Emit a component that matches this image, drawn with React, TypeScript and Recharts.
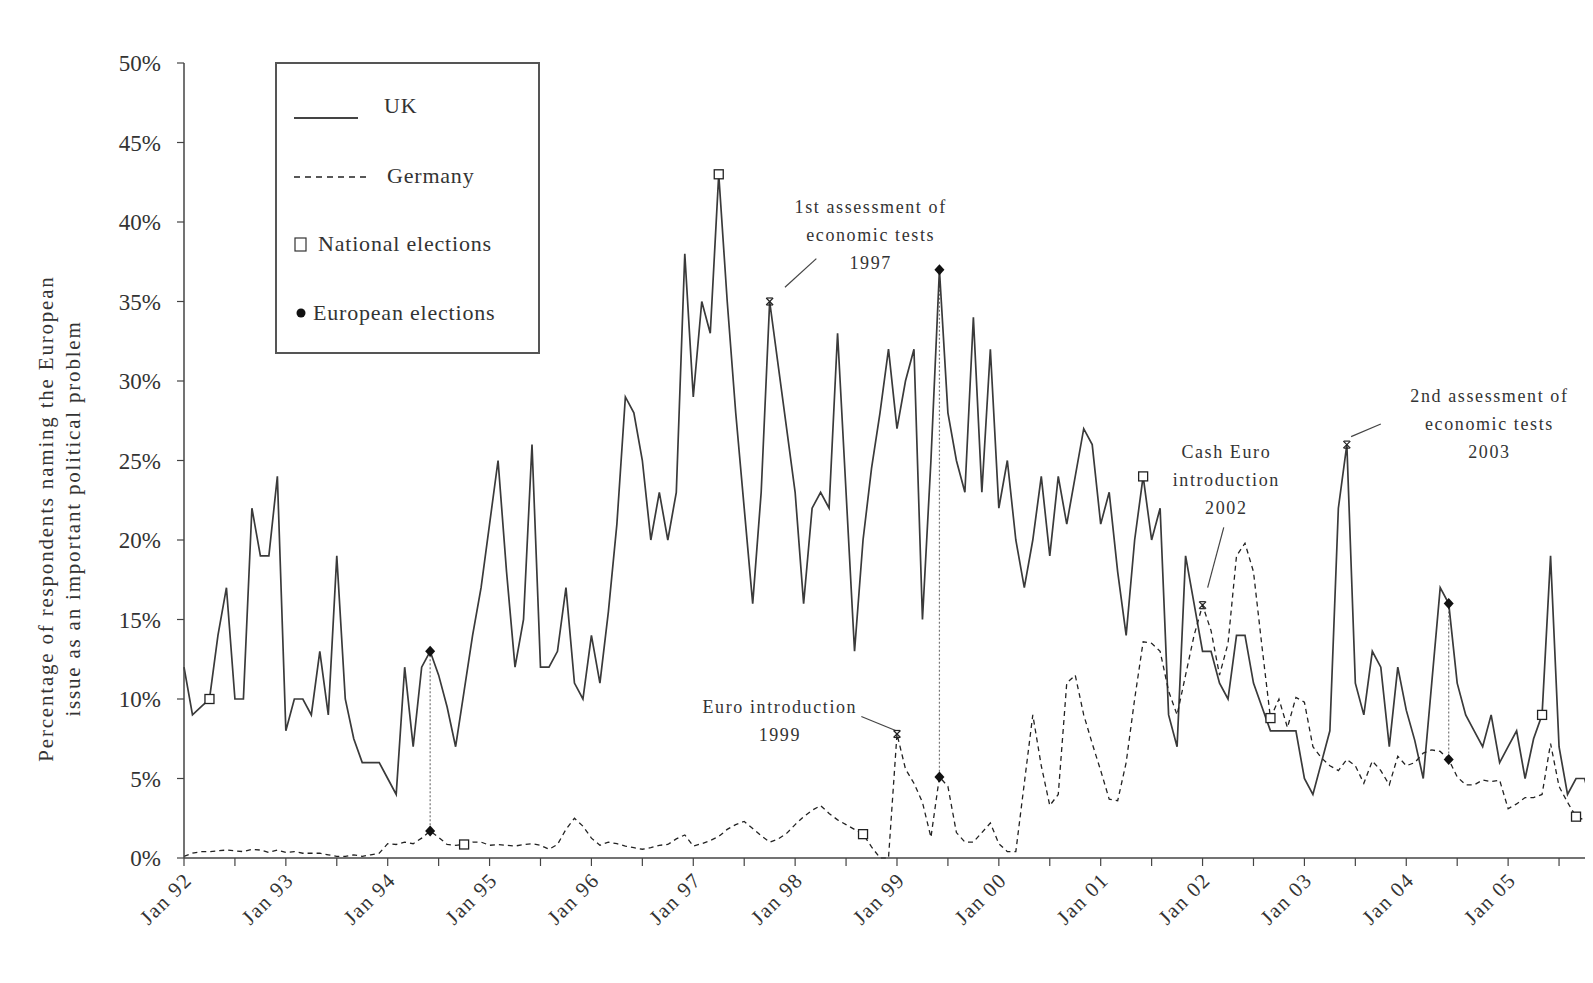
import React from 'react';
import {
  ComposedChart,
  Line,
  XAxis,
  YAxis,
  ReferenceLine,
  ReferenceDot,
  Legend,
} from 'recharts';

const W = 1593;
const H = 983;
const FONT = '"Liberation Serif", "Times New Roman", serif';
const INK = '#333';

// share of respondents (%), one value per month, month 0 = Jan 1992
const ukShare = [
  12, 9, 9.5, 10, 14, 17, 10, 10, 22, 19, 19, 24, // 1992
  8, 10, 10, 9, 13, 9, 19, 10, 7.5, 6, 6, 6, // 1993
  5, 4, 12, 7, 12, 13, 11.5, 9.5, 7, 10.5, 14, 17, // 1994
  21, 25, 18, 12, 15, 26, 12, 12, 13, 17, 11, 10, // 1995
  14, 11, 15.5, 21, 29, 28, 25, 20, 23, 20, 23, 38, // 1996
  29, 35, 33, 43, 35, 28, 22, 16, 23, 35, 31, 27, // 1997
  23, 16, 22, 23, 22, 33, 23, 13, 20, 24.5, 28, 32, // 1998
  27, 30, 32, 15, 25, 37, 28, 25, 23, 34, 23, 32, // 1999
  22, 25, 20, 17, 20, 24, 19, 24, 21, 24, 27, 26, // 2000
  21, 23, 18, 14, 20, 24, 20, 22, 9, 7, 19, 16, // 2001
  13, 13, 11, 10, 14, 14, 11, 9.5, 8, 8, 8, 8, // 2002
  5, 4, 6, 8, 22, 26, 11, 9, 13, 12, 7, 12, // 2003
  9.3, 7.4, 5, 11, 17, 16, 11, 9, 8, 7, 9, 6, // 2004
  7, 8, 5, 7.5, 9, 19, 7, 4, 5, 5, 3, // 2005
];

const deShare = [
  0.1, 0.3, 0.4, 0.4, 0.45, 0.5, 0.45, 0.4, 0.55, 0.5, 0.35, 0.5, // 1992
  0.35, 0.4, 0.3, 0.3, 0.3, 0.2, 0.1, 0.1, 0.2, 0.1, 0.2, 0.3, // 1993
  0.9, 0.85, 1.0, 0.9, 1.25, 1.7, 1.3, 0.85, 0.8, 0.85, 1.0, 1.0, // 1994
  0.8, 0.85, 0.8, 0.75, 0.85, 0.9, 0.8, 0.55, 0.85, 1.8, 2.5, 2.0, // 1995
  1.25, 0.8, 1.0, 0.9, 0.75, 0.65, 0.55, 0.65, 0.8, 0.85, 1.2, 1.45, // 1996
  0.75, 0.9, 1.1, 1.35, 1.8, 2.1, 2.3, 1.85, 1.4, 1.0, 1.2, 1.55, // 1997
  2.1, 2.6, 3.0, 3.3, 2.8, 2.4, 2.1, 1.8, 1.5, 0.7, 0, 0, // 1998
  7.8, 5.6, 4.7, 3.5, 1.3, 5.1, 4.5, 1.6, 1.0, 1.0, 1.6, 2.2, // 1999
  0.9, 0.4, 0.4, 4.7, 9, 5.8, 3.3, 4.0, 11, 11.5, 9, 7.2, // 2000
  5.5, 3.7, 3.6, 6, 10, 13.6, 13.5, 13, 10.5, 9, 11.5, 14, // 2001
  15.9, 14.3, 11.5, 13.5, 19, 19.8, 18, 13.3, 8.8, 10, 8.2, 10.1, // 2002
  9.8, 7, 6.3, 5.8, 5.5, 6.2, 5.8, 4.7, 6.1, 5.5, 4.6, 6.4, // 2003
  5.8, 6.0, 6.6, 6.8, 6.7, 6.2, 5.1, 4.6, 4.6, 4.9, 4.8, 4.9, // 2004
  3.1, 3.4, 3.8, 3.8, 4.0, 7.2, 4.5, 3.5, 2.6, 2.4, 2.2, // 2005
];

const yearLabels = [
  'Jan 92', 'Jan 93', 'Jan 94', 'Jan 95', 'Jan 96', 'Jan 97', 'Jan 98',
  'Jan 99', 'Jan 00', 'Jan 01', 'Jan 02', 'Jan 03', 'Jan 04', 'Jan 05',
];
const tickMonths = [
  0, 6, 12, 18, 24, 30, 36, 42, 48, 54, 60, 66, 72, 78, 84, 90, 96, 102,
  108, 114, 120, 126, 132, 138, 144, 150, 156, 162,
];
const yTicks = [0, 5, 10, 15, 20, 25, 30, 35, 40, 45, 50];

// month indexes of markers
const nationalElectionsUK = [3, 63, 113, 160];
const nationalElectionsDE = [33, 80, 128, 164];
const europeanElections = [29, 89, 149];
const eventsUK = [69, 137];
const eventsDE = [84, 120];

const annotations = [
  { lines: ['1st assessment of', 'economic tests', '1997'], at: { x: 80.9, y: 39.2 }, lead: [{ x: 70.8, y: 35.9 }, { x: 74.5, y: 37.7 }] },
  { lines: ['Euro introduction', '1999'], at: { x: 70.2, y: 8.6 }, lead: [{ x: 79.8, y: 8.9 }, { x: 83.9, y: 8.0 }] },
  { lines: ['Cash Euro', 'introduction', '2002'], at: { x: 122.8, y: 23.8 }, lead: [{ x: 122.5, y: 20.8 }, { x: 120.6, y: 17.0 }] },
  { lines: ['2nd assessment of', 'economic tests', '2003'], at: { x: 153.8, y: 27.3 }, lead: [{ x: 137.5, y: 26.5 }, { x: 141, y: 27.3 }] },
];

const data = ukShare.map((uk, m) => ({ m, uk, de: deShare[m] }));

const markerDot = (squares: number[], diamonds: number[], crosses: number[]) => (props: any) => {
  const { cx, cy, index } = props;
  const key = `mk-${index}`;
  if (cx == null || cy == null) return <g key={key} />;
  if (squares.includes(index)) {
    return <rect key={key} x={cx - 4.5} y={cy - 4.5} width={9} height={9} fill="#fff" stroke="#222" strokeWidth={1.3} />;
  }
  if (diamonds.includes(index)) {
    return <path key={key} d={`M${cx},${cy - 5.5}L${cx + 5},${cy}L${cx},${cy + 5.5}L${cx - 5},${cy}Z`} fill="#111" />;
  }
  if (crosses.includes(index)) {
    return (
      <g key={key} stroke="#222" strokeWidth={1.2}>
        <line x1={cx - 3.5} y1={cy - 3.5} x2={cx + 3.5} y2={cy + 3.5} />
        <line x1={cx - 3.5} y1={cy + 3.5} x2={cx + 3.5} y2={cy - 3.5} />
        <line x1={cx - 3} y1={cy - 3.5} x2={cx + 3} y2={cy - 3.5} />
        <line x1={cx - 3} y1={cy + 3.5} x2={cx + 3} y2={cy + 3.5} />
      </g>
    );
  }
  return <g key={key} />;
};

const MonthTick = (props: any) => {
  const { x, y, payload } = props;
  if (payload.value % 12 !== 0) return <g />;
  const label = yearLabels[payload.value / 12];
  return (
    <g transform={`translate(${x + 4},${y + 8}) rotate(-45)`}>
      <text x={0} y={0} dy="0.35em" textAnchor="end" fill={INK} fontSize={21} fontFamily={FONT} letterSpacing={1.5}>
        {label}
      </text>
    </g>
  );
};

const AxisTitle = (props: any) => {
  const vb = props.viewBox || { x: 124, y: 63, width: 60, height: 795 };
  const cy = vb.y + vb.height / 2 + 58;
  const x1 = vb.x - 78;
  const x2 = vb.x - 51;
  const style = { fill: INK, fontSize: 21, fontFamily: FONT, letterSpacing: 1.8 };
  return (
    <g>
      <text x={x1} y={cy} transform={`rotate(-90, ${x1}, ${cy})`} textAnchor="middle" dominantBaseline="central" {...style}>
        Percentage of respondents naming the European
      </text>
      <text x={x2} y={cy} transform={`rotate(-90, ${x2}, ${cy})`} textAnchor="middle" dominantBaseline="central" {...style}>
        issue as an important political problem
      </text>
    </g>
  );
};

const noteShape = (lines: string[]) => (p: any) => {
  const mid = (lines.length - 1) / 2;
  return (
    <g>
      {lines.map((t, i) => (
        <text key={t} x={p.cx} y={p.cy + (i - mid) * 28} textAnchor="middle" dominantBaseline="central"
          fill={INK} fontSize={18} fontFamily={FONT} letterSpacing={1.6}>
          {t}
        </text>
      ))}
    </g>
  );
};

const LegendBox = () => {
  const txt = { fill: INK, fontSize: 22, fontFamily: FONT, letterSpacing: 0.8 };
  return (
    <svg width={265} height={292} style={{ display: 'block' }}>
      <rect x={1} y={1} width={263} height={290} fill="#fff" stroke="#555" strokeWidth={2} />
      <line x1={19} x2={83} y1={56} y2={56} stroke="#444" strokeWidth={2} />
      <text x={109} y={51} {...txt}>UK</text>
      <line x1={19} x2={91} y1={115} y2={115} stroke="#222" strokeWidth={1.3} strokeDasharray="6 5" />
      <text x={112} y={121} {...txt}>Germany</text>
      <rect x={20} y={176} width={11} height={13} fill="none" stroke="#333" strokeWidth={1.2} />
      <text x={43} y={189} {...txt}>National elections</text>
      <circle cx={26} cy={251} r={4.5} fill="#111" />
      <text x={38} y={258} {...txt}>European elections</text>
    </svg>
  );
};

export default function App() {
  return (
    <div style={{ margin: -8, width: W, height: H, background: '#fff', position: 'relative', overflow: 'hidden' }}>
      <ComposedChart width={W} height={H} data={data} margin={{ top: 63, right: 0, bottom: 0, left: 124 }}>
        <XAxis
          type="number"
          dataKey="m"
          domain={[0, 166]}
          ticks={tickMonths}
          interval={0}
          tick={<MonthTick />}
          tickSize={8}
          tickMargin={2}
          height={125}
          axisLine={{ stroke: '#444', strokeWidth: 1.5 }}
          tickLine={{ stroke: '#444', strokeWidth: 1.2 }}
        />
        <YAxis
          type="number"
          domain={[0, 50]}
          ticks={yTicks}
          interval={0}
          width={60}
          tickSize={7}
          tickMargin={16}
          tickFormatter={(v: number) => `${v}%`}
          tick={{ fill: INK, fontSize: 23, fontFamily: FONT }}
          axisLine={{ stroke: '#444', strokeWidth: 1.5 }}
          tickLine={{ stroke: '#444', strokeWidth: 1.2 }}
          label={{ content: (p: any) => <AxisTitle {...p} /> }}
        />
        <Legend
          layout="vertical"
          align="center"
          verticalAlign="middle"
          wrapperStyle={{ left: 275, top: 62, width: 265, height: 292 }}
          content={() => <LegendBox />}
        />
        {europeanElections.map((m) => (
          <ReferenceLine
            key={`eu-${m}`}
            segment={[{ x: m, y: ukShare[m] }, { x: m, y: deShare[m] }]}
            stroke="#777"
            strokeDasharray="2 2"
            strokeWidth={1.2}
          />
        ))}
        {annotations.map((a) => (
          <ReferenceLine key={`lead-${a.lines[0]}`} segment={a.lead} stroke="#444" strokeWidth={1.2} />
        ))}
        {annotations.map((a) => (
          <ReferenceDot key={`note-${a.lines[0]}`} x={a.at.x} y={a.at.y} r={0} shape={noteShape(a.lines)} />
        ))}
        <Line
          type="linear"
          dataKey="uk"
          name="UK"
          stroke="#3a3a3a"
          strokeWidth={1.7}
          dot={markerDot(nationalElectionsUK, europeanElections, eventsUK)}
          activeDot={false}
          isAnimationActive={false}
        />
        <Line
          type="linear"
          dataKey="de"
          name="Germany"
          stroke="#222"
          strokeWidth={1.3}
          strokeDasharray="5 4"
          dot={markerDot(nationalElectionsDE, europeanElections, eventsDE)}
          activeDot={false}
          isAnimationActive={false}
        />
      </ComposedChart>
    </div>
  );
}
